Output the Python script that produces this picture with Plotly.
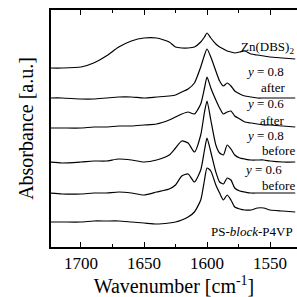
import plotly.graph_objects as go

# Wavenumber grid (cm^-1)
wavenumber = [1725, 1715, 1700, 1690, 1680, 1670, 1660, 1650, 1640, 1630, 1625, 1620,
              1615, 1610, 1605, 1602, 1600, 1597, 1593, 1590, 1587, 1584, 1581, 1578,
              1574, 1570, 1565, 1560, 1555, 1550, 1540, 1530]

# Offset absorbance traces (a.u.), top to bottom
zn_dbs2 = [179, 179, 180, 184, 191, 200, 206, 209, 209, 205, 200, 199, 199, 200, 205, 210,
           214, 209, 203, 200, 198, 196, 195, 194, 195, 196, 193, 192, 191, 190, 189, 188]
y08_after = [149, 149, 148, 148, 149, 150, 150, 149, 150, 151, 152, 155, 158, 164, 180, 192,
             198, 190, 176, 166, 161, 164, 161, 156, 153, 151, 150, 149, 149, 149, 149, 149]
y06_after = [119, 119, 119, 120, 120, 121, 121, 122, 123, 127, 130, 133, 135, 133, 143, 159,
             170, 159, 147, 139, 133, 135, 136, 131, 128, 125, 124, 123, 122, 122, 121, 120]
y08_before = [85, 84, 85, 86, 86, 88, 87, 85, 87, 92, 99, 106, 104, 95, 112, 135,
              146, 127, 102, 94, 92, 102, 98, 92, 89, 88, 87, 87, 87, 86, 85, 85]
y06_before = [54, 53, 53, 54, 54, 55, 54, 52, 55, 58, 62, 71, 73, 65, 77, 97,
              109, 95, 75, 65, 63, 69, 67, 59, 56, 55, 54, 54, 54, 54, 54, 54]
ps_p4vp = [25, 25, 25, 26, 26, 26, 25, 24, 23, 24, 25, 27, 30, 35, 47, 67,
           79, 76, 62, 54, 47, 52, 47, 40, 38, 37, 37, 39, 39, 37, 36, 35]

series = [zn_dbs2, y08_after, y06_after, y08_before, y06_before, ps_p4vp]

# Labels: text, wavenumber of right edge, y
label_text = ["Zn(DBS)<sub>2</sub>", "<i>y</i> = 0.8", "after", "<i>y</i> = 0.6", "after",
              "<i>y</i> = 0.8", "before", "<i>y</i> = 0.6", "before", "PS-<i>block</i>-P4VP"]
label_x = [1529.5, 1537.5, 1536.5, 1537.5, 1537, 1537.5, 1529, 1539, 1529, 1530.5]
label_y = [200, 176, 160, 144, 127, 112, 97, 78, 62, 16]

tick_vals = [1700, 1650, 1600, 1550]
minor_vals = [1725, 1675, 1625, 1575, 1525]

FONT = "Liberation Serif"
AXFONT = "serif"

fig = go.Figure()
for s in series:
    fig.add_trace(go.Scatter(x=wavenumber, y=s, mode="lines",
                             line=dict(color="black", width=1.2, shape="spline", smoothing=0.6),
                             showlegend=False, hoverinfo="skip"))

for t, x, y in zip(label_text, label_x, label_y):
    fig.add_annotation(x=x, y=y, xref="x", yref="y", text=t, showarrow=False,
                       xanchor="right", yanchor="middle",
                       font=dict(family=FONT, size=13, color="black"))

fig.update_layout(
    template="none",
    width=297, height=297,
    margin=dict(l=51, r=0, t=10, b=50),
    paper_bgcolor="white", plot_bgcolor="white",
    font=dict(family=AXFONT, color="black"),
    xaxis=dict(range=[1723.8, 1528.6], tickvals=tick_vals, ticks="inside", ticklen=5,
               tickwidth=1.2, tickcolor="black", showline=True, linecolor="black",
               linewidth=2, mirror="ticks", showgrid=False, zeroline=False,
               tickfont=dict(family=AXFONT, size=17, color="black"),
               minor=dict(tickvals=minor_vals, ticks="inside", ticklen=3, tickwidth=1,
                          tickcolor="black", showgrid=False),
               title=dict(text="Wavenumber [cm<sup>-1</sup>]",
                          font=dict(family=AXFONT, size=20, color="black"), standoff=4)),
    yaxis=dict(range=[0, 237], showticklabels=False, ticks="", showline=True,
               linecolor="black", linewidth=2, showgrid=False, zeroline=False,
               title=dict(text="Absorbance [a.u.]",
                          font=dict(family=AXFONT, size=20, color="black"), standoff=10)),
)

# Remove the browser's default page margin so the 297x297 figure fills the window.
fig.write_html("out.html", config={"displayModeBar": False},
               post_script="document.body.style.margin='0';"
                           "document.documentElement.style.overflow='hidden';")
